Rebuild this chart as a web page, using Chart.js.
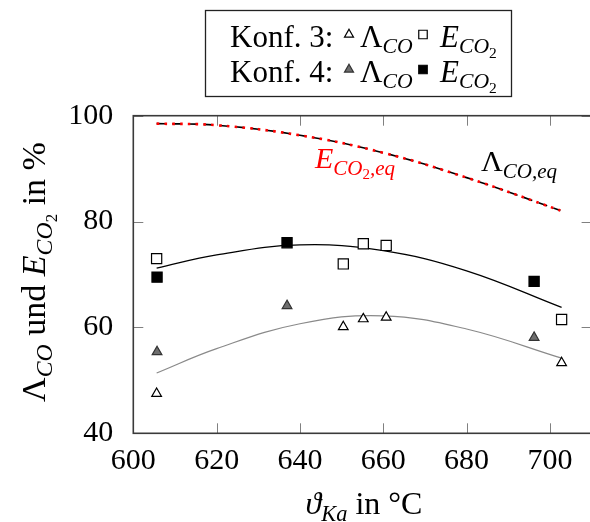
<!DOCTYPE html>
<html>
<head>
<meta charset="utf-8">
<script src="https://cdn.jsdelivr.net/npm/chart.js@4.4.1/dist/chart.umd.min.js"></script>
<style>
  html, body { margin: 0; padding: 0; background: #fff; overflow: hidden; }
  #wrap { width: 600px; height: 522px; }
</style>
</head>
<body>
<div id="wrap"><canvas id="chart" width="600" height="522"></canvas></div>
<script>
const xTicks = [600, 620, 640, 660, 680, 700];
const yTicks = [40, 60, 80, 100];

// Konf. 3 measurements
const k3Temp = [605.6, 650.4, 655.2, 660.7, 702.8];
const k3Lambda = [47.5, 60.1, 61.6, 61.9, 53.3];
const k3E = [73.0, 72.0, 75.8, 75.5, 61.5];

// Konf. 4 measurements
const k4Temp = [605.7, 636.9, 696.2];
const k4Lambda = [55.4, 64.1, 58.1];
const k4E = [69.5, 76.0, 68.7];

// fitted trend lines
const fitTemp = [605.6, 620, 640, 660, 680, 702.8];
const fitE = [71.2, 73.7, 75.6, 74.5, 70.7, 63.8];
const fitLambda = [51.4, 56.0, 60.7, 62.2, 59.7, 54.2];

// equilibrium values
const eqTemp = [605.6, 620, 640, 660, 680, 702.5];
const eqLambda = [98.5, 98.2, 96.3, 93.0, 88.3, 82.1];
const eqE = [98.5, 98.2, 96.3, 93.0, 88.3, 82.1];

const FONT = '"Liberation Serif", "Times New Roman", serif';

const pts = (xs, ys) => xs.map((x, i) => ({ x: x, y: ys[i] }));

// text runs with sub- and sub-subscripts
function richWidth(ctx, parts, size) {
    let w = 0;
    for (const p of parts) {
        const s = p.lvl === 1 ? size * 0.7 : p.lvl === 2 ? size * 0.5 : size;
        ctx.font = (p.it ? 'italic ' : '') + s + 'px ' + FONT;
        w += ctx.measureText(p.t).width;
    }
    return w;
}

function drawRich(ctx, parts, x, y, size, color) {
    let cx = x;
    ctx.fillStyle = color || '#000';
    ctx.textBaseline = 'alphabetic';
    ctx.textAlign = 'left';
    for (const p of parts) {
        const s = p.lvl === 1 ? size * 0.7 : p.lvl === 2 ? size * 0.5 : size;
        const dy = p.lvl === 1 ? size * 0.22 : p.lvl === 2 ? size * 0.36 : 0;
        ctx.font = (p.it ? 'italic ' : '') + s + 'px ' + FONT;
        ctx.fillText(p.t, cx, y + dy);
        cx += ctx.measureText(p.t).width;
    }
    return cx - x;
}

const lambdaCO = [{ t: 'Λ' }, { t: 'CO', it: true, lvl: 1 }];
const eCO2 = [{ t: 'E', it: true }, { t: 'CO', it: true, lvl: 1 }, { t: '2', lvl: 2 }];

const framePlugin = {
    id: 'frame',
    afterDraw(chart) {
        const ctx = chart.ctx;
        const a = chart.chartArea;
        const xs = chart.scales.x, ys = chart.scales.y;
        ctx.save();

        // inward ticks on all four sides
        ctx.strokeStyle = '#808080';
        ctx.lineWidth = 1;
        ctx.beginPath();
        xTicks.forEach(v => {
            const px = Math.round(xs.getPixelForValue(v)) + 0.5;
            ctx.moveTo(px, a.bottom); ctx.lineTo(px, a.bottom - 10);
            ctx.moveTo(px, a.top); ctx.lineTo(px, a.top + 10);
        });
        yTicks.forEach(v => {
            const py = Math.round(ys.getPixelForValue(v)) + 0.5;
            ctx.moveTo(a.left, py); ctx.lineTo(a.left + 10, py);
            ctx.moveTo(a.right, py); ctx.lineTo(a.right - 10, py);
        });
        ctx.stroke();

        // axis frame
        ctx.strokeStyle = '#3a3a3a';
        ctx.lineWidth = 1.6;
        ctx.strokeRect(a.left, a.top, a.right - a.left, a.bottom - a.top);

        // curve labels
        drawRich(ctx, [{ t: 'E', it: true }, { t: 'CO', it: true, lvl: 1 }, { t: '2', lvl: 2 },
            { t: ',eq', it: true, lvl: 1 }], 315, 168, 30, '#ff0000');
        drawRich(ctx, [{ t: 'Λ' }, { t: 'CO,eq', it: true, lvl: 1 }], 481, 171, 30, '#000');

        // axis titles
        const xt = [{ t: 'ϑ', it: true }, { t: 'Ka', it: true, lvl: 1 }, { t: ' in °C' }];
        const xw = richWidth(ctx, xt, 32);
        drawRich(ctx, xt, 364 - xw / 2, 514, 32);

        const yt = lambdaCO.concat([{ t: ' und ' }], eCO2, [{ t: ' in %' }]);
        const yw = richWidth(ctx, yt, 34);
        ctx.translate(45, 272);
        ctx.rotate(-Math.PI / 2);
        drawRich(ctx, yt, -yw / 2, 0, 34);
        ctx.restore();

        // legend box
        ctx.save();
        ctx.fillStyle = '#fff';
        ctx.fillRect(205, 10, 307, 87);
        ctx.strokeStyle = '#222';
        ctx.lineWidth = 1.3;
        ctx.strokeRect(205.5, 10.5, 306, 86);
        const rows = [
            { label: 'Konf. 3:', base: 46.5, tri: chart.data.datasets[0], sq: chart.data.datasets[2] },
            { label: 'Konf. 4:', base: 81.5, tri: chart.data.datasets[1], sq: chart.data.datasets[3] }
        ];
        rows.forEach(r => {
            drawRich(ctx, [{ t: r.label }], 230, r.base, 31);
            [[r.tri, 349], [r.sq, 423]].forEach(([ds, mx]) => {
                ctx.fillStyle = ds.backgroundColor;
                ctx.strokeStyle = ds.borderColor;
                ctx.lineWidth = ds.borderWidth;
                Chart.helpers.drawPoint(ctx, {
                    pointStyle: ds.pointStyle,
                    radius: ds.pointStyle === 'rect' ? 6 : 5.2,
                    rotation: 0,
                    borderWidth: ds.borderWidth
                }, mx, r.base - 12);
            });
            drawRich(ctx, lambdaCO, 360, r.base, 31);
            drawRich(ctx, eCO2, 440, r.base, 31);
        });
        ctx.restore();
    }
};

const marker = (label, xs, ys, style, fill, border, radius) => ({
    label: label,
    data: pts(xs, ys),
    pointStyle: style,
    backgroundColor: fill,
    borderColor: border,
    borderWidth: 1.2,
    pointRadius: radius,
    showLine: false
});

const curve = (label, xs, ys, color, width, dash) => ({
    label: label,
    data: pts(xs, ys),
    showLine: true,
    borderColor: color,
    borderWidth: width,
    borderDash: dash || [],
    borderCapStyle: 'butt',
    pointRadius: 0,
    tension: 0.4,
    fill: false
});

new Chart(document.getElementById('chart'), {
    type: 'scatter',
    data: {
        datasets: [
            marker('Konf. 3 Λ_CO', k3Temp, k3Lambda, 'triangle', '#ffffff', '#000000', 5.6),
            marker('Konf. 4 Λ_CO', k4Temp, k4Lambda, 'triangle', '#6e6e6e', '#333333', 5.6),
            marker('Konf. 3 E_CO2', k3Temp, k3E, 'rect', '#ffffff', '#000000', 7.2),
            marker('Konf. 4 E_CO2', k4Temp, k4E, 'rect', '#000000', '#000000', 7.2),
            curve('E_CO2 fit', fitTemp, fitE, '#000000', 1.3),
            curve('Λ_CO fit', fitTemp, fitLambda, '#8a8a8a', 1.2),
            curve('E_CO2,eq', eqTemp, eqE, '#ff0000', 2.6, [2.6, 5.2]),
            curve('Λ_CO,eq', eqTemp, eqLambda, '#000000', 1.6, [9, 6.7])
        ]
    },
    options: {
        responsive: false,
        animation: false,
        layout: { padding: { top: 115.7, right: 4.7, left: 0, bottom: 0 } },
        plugins: { legend: { display: false }, tooltip: { enabled: false } },
        scales: {
            x: {
                type: 'linear',
                min: 600,
                max: 710,
                afterFit: s => { s.height = 88.7; },
                afterBuildTicks: s => { s.ticks = xTicks.map(v => ({ value: v })); },
                grid: { display: false, drawTicks: false },
                border: { display: false },
                ticks: { color: '#000', padding: 10, font: { family: FONT, size: 30 }, maxRotation: 0 }
            },
            y: {
                type: 'linear',
                min: 40,
                max: 100,
                afterFit: s => { s.width = 133.3; },
                afterBuildTicks: s => { s.ticks = yTicks.map(v => ({ value: v })); },
                grid: { display: false, drawTicks: false },
                border: { display: false },
                ticks: { color: '#000', padding: 20, font: { family: FONT, size: 30 } }
            }
        }
    },
    plugins: [framePlugin]
});
</script>
</body>
</html>
